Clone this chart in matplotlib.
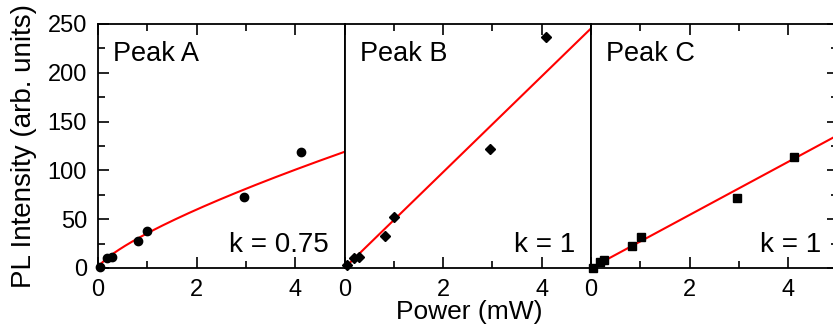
import numpy as np
import matplotlib.pyplot as plt
from matplotlib.ticker import MultipleLocator

plt.rcParams['font.family'] = ['Liberation Sans', 'DejaVu Sans']

# Peak A (circles), power-law fit k = 0.75
power_a = [0.04, 0.19, 0.29, 0.82, 0.99, 2.97, 4.11]
intensity_a = [1, 10.5, 11.5, 28, 38, 73, 118.5]
amp_a = 35.6
k_a = 0.75

# Peak B (diamonds), k = 1
power_b = [0.05, 0.19, 0.29, 0.83, 1.0, 2.96, 4.09]
intensity_b = [3, 10, 11.6, 33, 52.5, 122, 237]
amp_b = 49.1
k_b = 1.0

# Peak C (squares), k = 1
power_c = [0.04, 0.18, 0.26, 0.83, 1.01, 2.96, 4.12]
intensity_c = [0.5, 6.5, 8.2, 23, 31.4, 72, 114]
amp_c = 27.2
k_c = 1.0

panels = [
    ("Peak A", power_a, intensity_a, amp_a, k_a, "o", "k = 0.75"),
    ("Peak B", power_b, intensity_b, amp_b, k_b, "D", "k = 1"),
    ("Peak C", power_c, intensity_c, amp_c, k_c, "s", "k = 1"),
]

fig = plt.figure(figsize=(8.33, 3.27), dpi=100)

left = 98 / 833
bottom = 1 - 268 / 327
height = (268 - 24) / 327
width = 246.5 / 833

xfit = np.linspace(0, 5, 200)
for i, (name, xs, ys, amp, k, mk, ktxt) in enumerate(panels):
    ax = fig.add_axes([left + i * width, bottom, width, height])
    ms = {"o": 6, "D": 5.5, "s": 5.5}[mk]
    ax.plot(xs, ys, mk, color="black", ms=ms, zorder=3, clip_on=False)
    ax.plot(xfit, amp * xfit ** k, color="red", lw=1.5, zorder=2)
    ax.set_xlim(0, 5)
    ax.set_ylim(0, 250)
    ax.xaxis.set_major_locator(MultipleLocator(2))
    ax.xaxis.set_minor_locator(MultipleLocator(1))
    ax.yaxis.set_major_locator(MultipleLocator(50))
    ax.yaxis.set_minor_locator(MultipleLocator(25))
    ax.set_xticks([0, 2, 4])
    for s in ax.spines.values():
        s.set_linewidth(1.3)
    ax.tick_params(which="both", direction="in", top=True, bottom=True,
                   left=(i == 0), right=(i == 2), labelleft=(i == 0),
                   labelright=False, width=1.2, labelsize=17, pad=8)
    ax.tick_params(which="major", length=8)
    ax.tick_params(which="minor", length=5)
    ax.text(0.061, 0.93, name, transform=ax.transAxes, fontsize=19.5,
            ha="left", va="top")
    ax.text(0.935, 0.067, ktxt, transform=ax.transAxes, fontsize=20,
            ha="right", va="baseline")

fig.text(24 / 833, 1 - 146 / 327, "PL Intensity (arb. units)", fontsize=20,
         rotation=90, ha="center", va="center")
fig.text(469 / 833, 1 - 319 / 327, "Power (mW)", fontsize=19,
         ha="center", va="baseline")

fig.savefig("out.png", dpi=100)
